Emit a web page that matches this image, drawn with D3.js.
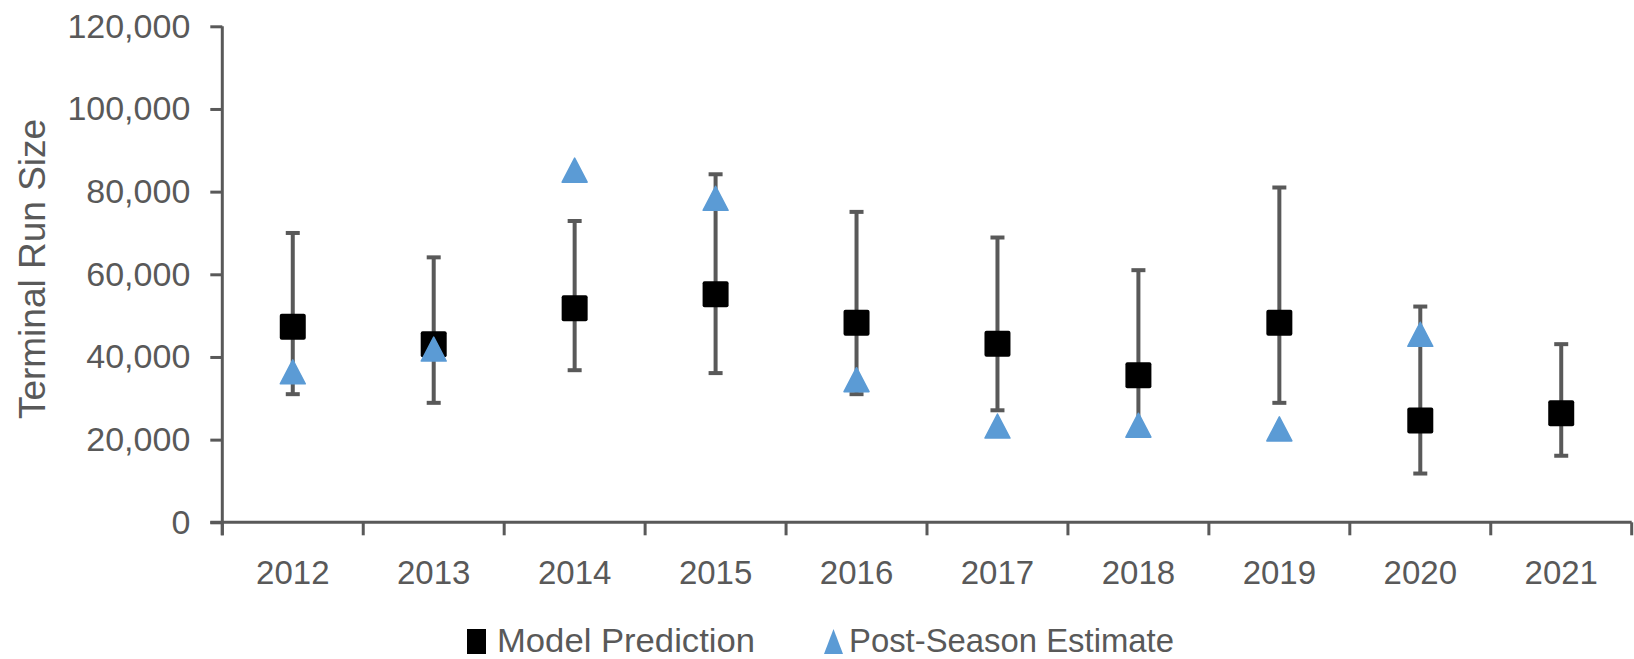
<!DOCTYPE html>
<html><head><meta charset="utf-8">
<script src="https://cdn.jsdelivr.net/npm/d3@7"></script>
<style>body{margin:0;background:#fff}svg{display:block}text{font-family:"Liberation Sans",Arial,sans-serif;fill:#595959}</style>
</head><body><svg id="c" width="1634" height="659"></svg>
<script>
const years = ["2012","2013","2014","2015","2016","2017","2018","2019","2020","2021"];
const modelPrediction = [47300,43100,51800,55200,48300,43200,35600,48300,24600,26400];
const upperBound = [70000,64100,72900,84200,75100,68900,61000,81000,52200,43100];
const lowerBound = [31000,28900,36800,36100,31000,27100,21000,28900,11800,16100];
const postSeason = [36400,41900,85200,78400,34500,23300,23500,22600,45500,null];
const yTicks = [0,20000,40000,60000,80000,100000,120000];
const seriesNames = ["Model Prediction","Post-Season Estimate"];

const svg = d3.select("#c");
const pLeft = 222.3, pRight = 1631.7, pTop = 26.3, pBottom = 522.3;
const x = d3.scaleBand().domain(years).range([pLeft, pRight]);
const y = d3.scaleLinear().domain([0,120000]).range([pBottom, pTop]);
const axisColor = "#595959";

// y axis
const ya = svg.append("g").attr("transform",`translate(${pLeft},0)`)
  .call(d3.axisLeft(y).tickValues(yTicks).tickSize(12).tickPadding(20).tickFormat(d3.format(",")));
ya.select(".domain").remove();
ya.selectAll("line").attr("stroke",axisColor).attr("stroke-width",3);
ya.selectAll("text").style("font-size","34px").attr("fill",axisColor);
svg.append("line").attr("x1",pLeft).attr("x2",pLeft).attr("y1",pTop).attr("y2",pBottom+13)
  .attr("stroke",axisColor).attr("stroke-width",3);

// x axis
const xa = svg.append("g").attr("transform",`translate(0,${pBottom})`)
  .call(d3.axisBottom(x).tickSize(0).tickPadding(38));
xa.select(".domain").remove();
xa.selectAll("text").style("font-size","33px").attr("fill",axisColor);
svg.append("line").attr("x1",pLeft-12).attr("x2",pRight).attr("y1",pBottom).attr("y2",pBottom)
  .attr("stroke",axisColor).attr("stroke-width",3);
const bounds = years.map(d=>x(d)).concat([x(years[years.length-1])+x.bandwidth()]);
svg.append("g").selectAll("line").data(bounds).join("line")
  .attr("x1",d=>d).attr("x2",d=>d).attr("y1",pBottom).attr("y2",pBottom+13)
  .attr("stroke",axisColor).attr("stroke-width",3);

// y title
svg.append("text").attr("transform",`translate(32,269) rotate(-90)`)
  .attr("text-anchor","middle").attr("dominant-baseline","central")
  .style("font-size","37px").text("Terminal Run Size");

const cx = d => x(d) + x.bandwidth()/2;
// error bars
const eb = svg.append("g").attr("stroke",axisColor).attr("stroke-width",4);
years.forEach((yr,i)=>{
  eb.append("line").attr("x1",cx(yr)).attr("x2",cx(yr)).attr("y1",y(upperBound[i])).attr("y2",y(lowerBound[i]));
  [upperBound[i],lowerBound[i]].forEach(v=>{
    eb.append("line").attr("x1",cx(yr)-7).attr("x2",cx(yr)+7).attr("y1",y(v)).attr("y2",y(v));
  });
});
// squares
const sq = 26;
svg.append("g").selectAll("rect").data(years).join("rect")
  .attr("x",d=>cx(d)-sq/2).attr("y",(d,i)=>y(modelPrediction[i])-sq/2)
  .attr("width",sq).attr("height",sq).attr("rx",2).attr("fill","#000");
// triangles
const tw = 25, th = 24;
const tri = (w,h)=>`M0,${-h/2}L${w/2},${h/2}L${-w/2},${h/2}Z`;
svg.append("g").selectAll("path").data(years.map((d,i)=>[d,postSeason[i]]).filter(d=>d[1]!=null)).join("path")
  .attr("transform",d=>`translate(${cx(d[0])},${y(d[1])})`)
  .attr("d",tri(tw,th)).attr("fill","#5B9BD5").attr("stroke","#5B9BD5").attr("stroke-width",1.5).attr("stroke-linejoin","round");

// legend
const lg = svg.append("g");
lg.append("rect").attr("x",467).attr("y",629).attr("width",19).attr("height",25).attr("fill","#000");
lg.append("text").attr("x",497).attr("y",652).style("font-size","33px").attr("textLength",258).attr("lengthAdjust","spacingAndGlyphs").text(seriesNames[0]);
lg.append("path").attr("transform","translate(833.5,641.5)").attr("d",tri(19,25)).attr("fill","#5B9BD5");
lg.append("text").attr("x",849).attr("y",652).style("font-size","33px").attr("textLength",325).attr("lengthAdjust","spacingAndGlyphs").text(seriesNames[1]);
</script></body></html>
